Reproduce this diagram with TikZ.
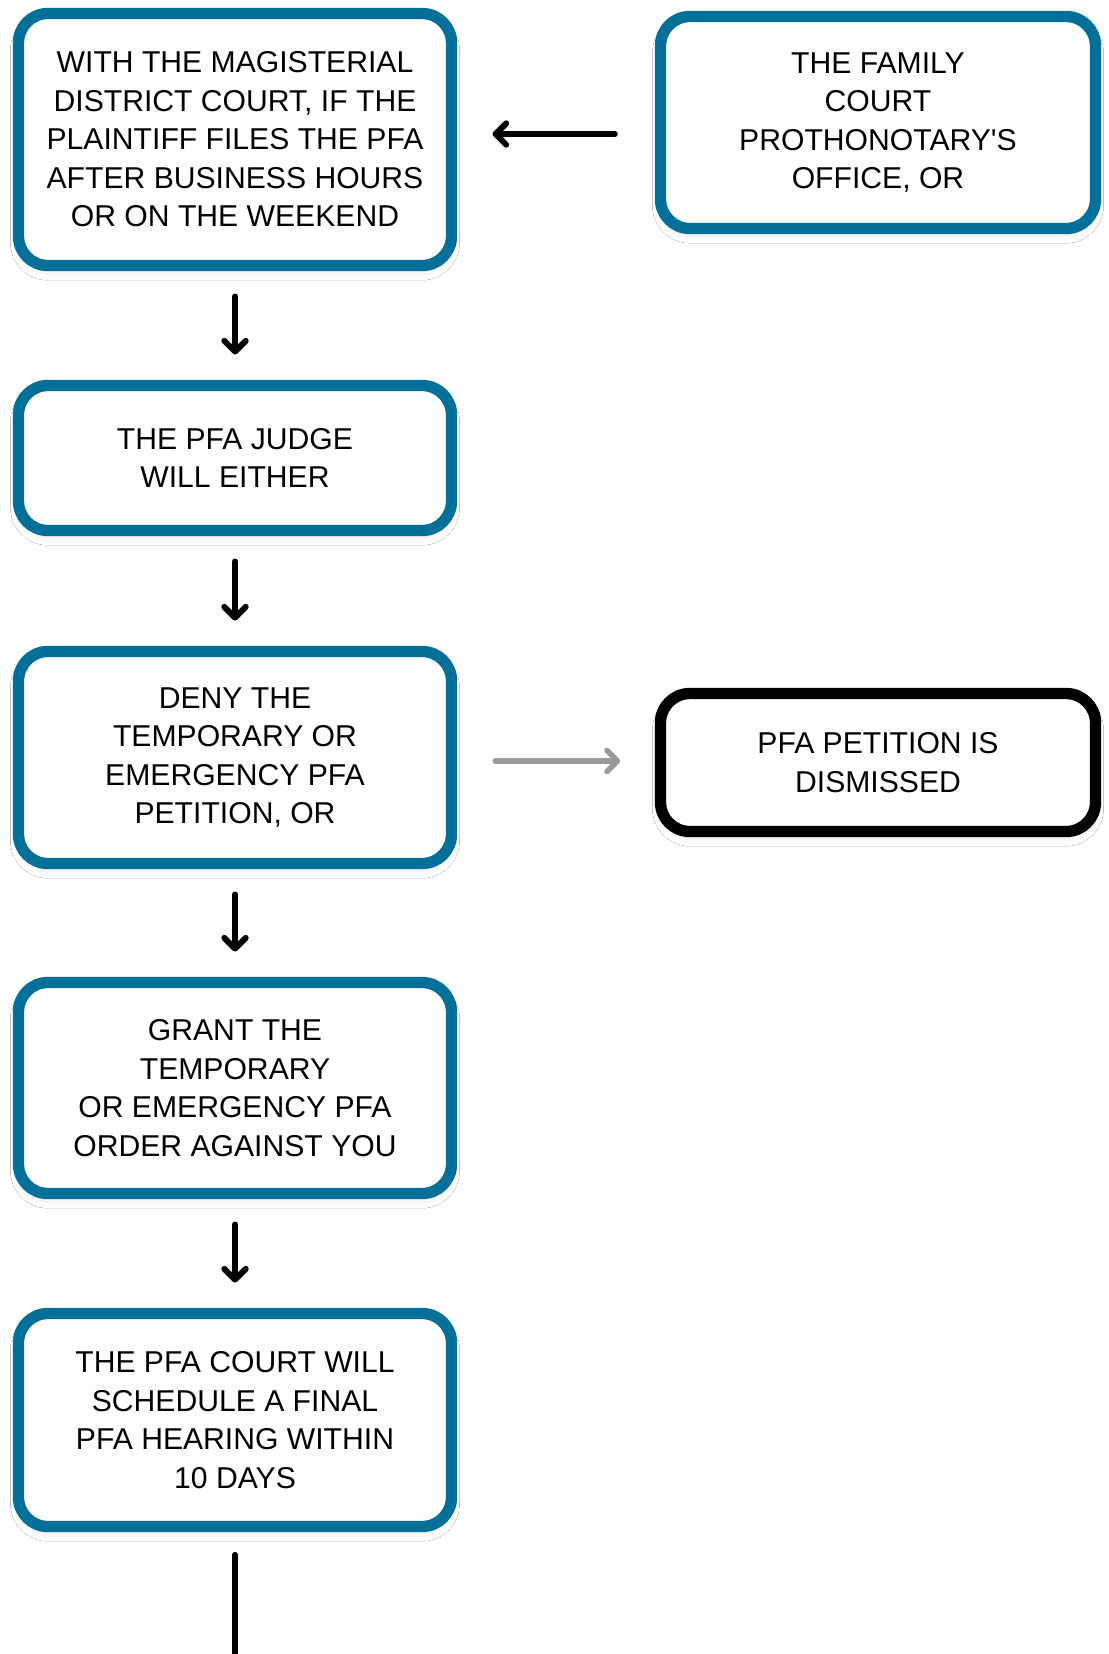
\documentclass[tikz,border=0pt]{standalone}
\usepackage{fontspec}
\newfontfamily\boxfont{Liberation Sans}
\usetikzlibrary{arrows.meta,shadows.blur}
\definecolor{boxblue}{HTML}{03709A}
\definecolor{arrgray}{HTML}{9A9A9A}
\begin{document}
\begin{tikzpicture}[x=0.75pt,y=-0.75pt,
  box/.style={draw=boxblue, line width=8.5pt, rounded corners=22pt, fill=white,
    align=center, inner sep=0pt, text=black,
    font=\boxfont\fontsize{22.6}{28.9}\selectfont,
    minimum width=324.75pt,
    blur shadow={shadow xshift=0pt, shadow yshift=-5pt, shadow blur radius=6pt, shadow blur steps=12, shadow opacity=9}},
  rbox/.style={box, minimum width=326.25pt},
  darkbox/.style={rbox, draw=black},
  arr/.style={line width=4.5pt, line cap=round, black,
    -{Straight Barb[length=8pt,width=16pt,line cap=round,line join=round]}},
  garr/.style={arr, draw=arrgray, line width=4pt},
  vstep/.style={arr, shorten <=19pt, shorten >=19pt},
  endline/.style={line width=4.5pt, line cap=round, black, shorten <=17pt}]
\useasboundingbox (0,0) rectangle (1109,1654);
\fill[white] (0,0) rectangle (1109,1654);

\node[box, minimum height=189pt] (A) at (235,139.5)
  {WITH THE MAGISTERIAL\\DISTRICT COURT, IF THE\\PLAINTIFF FILES THE PFA\\AFTER BUSINESS HOURS\\OR ON THE WEEKEND};
\node[rbox, minimum height=159pt] (B) at (878,122.5)
  {THE FAMILY\\COURT\\PROTHONOTARY'S\\OFFICE, OR};
\node[box, minimum height=108.75pt] (C) at (235,458)
  {THE PFA JUDGE\\WILL EITHER};
\node[box, minimum height=159pt] (D) at (235,757.5)
  {DENY THE\\TEMPORARY OR\\EMERGENCY PFA\\PETITION, OR};
\node[darkbox, minimum height=103.5pt] (E) at (878,762.5)
  {PFA PETITION IS\\DISMISSED};
\node[box, minimum height=158.25pt] (F) at (235,1088)
  {GRANT THE\\TEMPORARY\\OR EMERGENCY PFA\\ORDER AGAINST YOU};
\node[box, minimum height=159.75pt] (G) at (235,1420)
  {THE PFA COURT WILL\\SCHEDULE A FINAL\\PFA HEARING WITHIN\\10 DAYS};

\coordinate (ytop) at (0,134);
\coordinate (ymid) at (0,761);
\coordinate (bottom) at (235,1660);

\draw[arr, shorten <=30pt, shorten >=26.5pt] (B.west |- ytop) -- (A.east |- ytop);
\draw[garr, shorten <=28.5pt, shorten >=26pt] (D.east |- ymid) -- (E.west |- ymid);
\draw[vstep] (A.south) -- (C.north);
\draw[vstep] (C.south) -- (D.north);
\draw[vstep] (D.south) -- (F.north);
\draw[vstep] (F.south) -- (G.north);
\draw[endline] (G.south) -- (bottom);
\end{tikzpicture}
\end{document}
